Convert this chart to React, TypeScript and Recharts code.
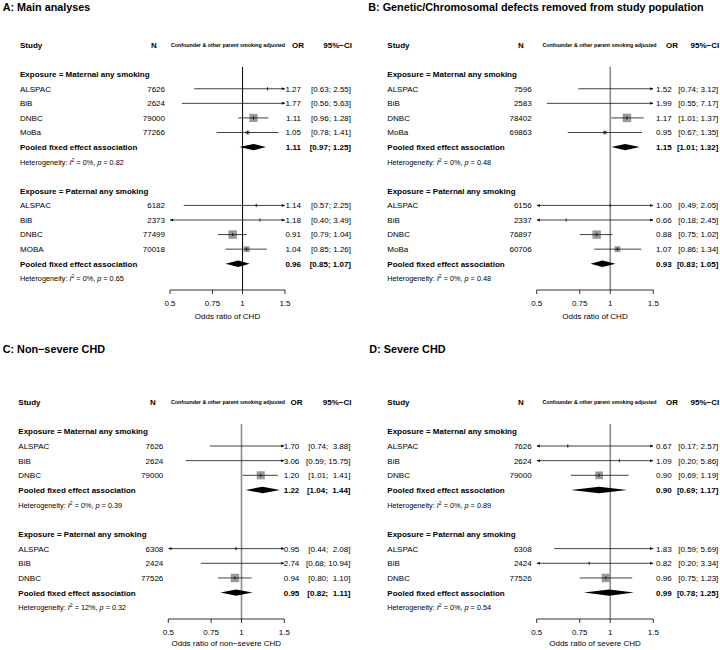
import React from 'react';
import { ComposedChart, Scatter, XAxis, YAxis, ReferenceLine } from 'recharts';

const FONT = '"Liberation Sans", Arial, Helvetica, sans-serif';

const cohorts4 = ['ALSPAC', 'BiB', 'DNBC', 'MoBa'];
const cohorts4Upper = ['ALSPAC', 'BiB', 'DNBC', 'MOBA'];
const cohorts3 = ['ALSPAC', 'BiB', 'DNBC'];
const exposures = ['Exposure = Maternal any smoking', 'Exposure = Paternal any smoking'];

// A: Main analyses
const aMatN = [7626, 2624, 79000, 77266];
const aMatOR = [1.27, 1.77, 1.11, 1.05];
const aMatLo = [0.63, 0.56, 0.96, 0.78];
const aMatHi = [2.55, 5.63, 1.28, 1.41];
const aMatPooled = [1.11, 0.97, 1.25];
const aMatHet = ['0%', '0.82'];
const aPatN = [6182, 2373, 77499, 70018];
const aPatOR = [1.14, 1.18, 0.91, 1.04];
const aPatLo = [0.57, 0.4, 0.79, 0.85];
const aPatHi = [2.25, 3.49, 1.04, 1.26];
const aPatPooled = [0.96, 0.85, 1.07];
const aPatHet = ['0%', '0.65'];

// B: Genetic/Chromosomal defects removed
const bMatN = [7596, 2583, 78402, 69863];
const bMatOR = [1.52, 1.99, 1.17, 0.95];
const bMatLo = [0.74, 0.55, 1.01, 0.67];
const bMatHi = [3.12, 7.17, 1.37, 1.35];
const bMatPooled = [1.15, 1.01, 1.32];
const bMatHet = ['0%', '0.48'];
const bPatN = [6156, 2337, 76897, 60706];
const bPatOR = [1.0, 0.66, 0.88, 1.07];
const bPatLo = [0.49, 0.18, 0.75, 0.86];
const bPatHi = [2.05, 2.45, 1.02, 1.34];
const bPatPooled = [0.93, 0.83, 1.05];
const bPatHet = ['0%', '0.48'];

// C: Non-severe CHD
const cMatN = [7626, 2624, 79000];
const cMatOR = [1.7, 3.06, 1.2];
const cMatLo = [0.74, 0.59, 1.01];
const cMatHi = [3.88, 15.75, 1.41];
const cMatPooled = [1.22, 1.04, 1.44];
const cMatHet = ['0%', '0.39'];
const cPatN = [6308, 2424, 77526];
const cPatOR = [0.95, 2.74, 0.94];
const cPatLo = [0.44, 0.68, 0.8];
const cPatHi = [2.08, 10.94, 1.1];
const cPatPooled = [0.95, 0.82, 1.11];
const cPatHet = ['12%', '0.32'];

// D: Severe CHD
const dMatN = [7626, 2624, 79000];
const dMatOR = [0.67, 1.09, 0.9];
const dMatLo = [0.17, 0.2, 0.69];
const dMatHi = [2.57, 5.86, 1.19];
const dMatPooled = [0.9, 0.69, 1.17];
const dMatHet = ['0%', '0.89'];
const dPatN = [6308, 2424, 77526];
const dPatOR = [1.83, 0.82, 0.96];
const dPatLo = [0.59, 0.2, 0.75];
const dPatHi = [5.69, 3.34, 1.23];
const dPatPooled = [0.99, 0.78, 1.25];
const dPatHet = ['0%', '0.54'];

const axisTicks = [0.5, 0.75, 1, 1.5];
const X_DOMAIN = [0.5, 1.5];
const MAX_BOX = 8.5;
const DIAMOND_H = 0.22;

type Group = {
  label: string; studies: string[]; n: number[]; or: number[]; lo: number[]; hi: number[];
  pooled: number[]; het: string[];
};
type Row = {
  x: number; y: number; kind: string; label?: string; n?: number; or?: number; lo?: number;
  hi?: number; het?: string[];
};
type Layout = {
  study: number; nHead: number; n: number; conf: number; orHead: number; or: number; ci: number;
  left: number; right: number;
};

const grp = (i: number, studies: string[], n: number[], or: number[], lo: number[], hi: number[],
  pooled: number[], het: string[]): Group => ({ label: exposures[i], studies, n, or, lo, hi, pooled, het });

const groupsA = [
  grp(0, cohorts4, aMatN, aMatOR, aMatLo, aMatHi, aMatPooled, aMatHet),
  grp(1, cohorts4Upper, aPatN, aPatOR, aPatLo, aPatHi, aPatPooled, aPatHet),
];
const groupsB = [
  grp(0, cohorts4, bMatN, bMatOR, bMatLo, bMatHi, bMatPooled, bMatHet),
  grp(1, cohorts4, bPatN, bPatOR, bPatLo, bPatHi, bPatPooled, bPatHet),
];
const groupsC = [
  grp(0, cohorts3, cMatN, cMatOR, cMatLo, cMatHi, cMatPooled, cMatHet),
  grp(1, cohorts3, cPatN, cPatOR, cPatLo, cPatHi, cPatPooled, cPatHet),
];
const groupsD = [
  grp(0, cohorts3, dMatN, dMatOR, dMatLo, dMatHi, dMatPooled, dMatHet),
  grp(1, cohorts3, dPatN, dPatOR, dPatLo, dPatHi, dPatPooled, dPatHet),
];

function buildRows(groups: Group[]): Row[] {
  const rows: Row[] = [{ x: 0, y: 0, kind: 'head' }];
  let y = 2;
  groups.forEach((g) => {
    rows.push({ x: 0, y: y++, kind: 'group', label: g.label });
    g.studies.forEach((s, i) => {
      rows.push({ x: 0, y: y++, kind: 'study', label: s, n: g.n[i], or: g.or[i], lo: g.lo[i], hi: g.hi[i] });
    });
    rows.push({
      x: 0, y: y++, kind: 'pooled', label: 'Pooled fixed effect association',
      or: g.pooled[0], lo: g.pooled[1], hi: g.pooled[2],
    });
    rows.push({ x: 0, y, kind: 'het', het: g.het });
    y += 2;
  });
  return rows;
}

const inside = (v: number) => v >= X_DOMAIN[0] && v <= X_DOMAIN[1];
const clamp = (v: number) => Math.min(Math.max(v, X_DOMAIN[0]), X_DOMAIN[1]);
const prec = (r: Row) => 3.92 / (Math.log(r.hi!) - Math.log(r.lo!));

function textShape(L: Layout, hiWidth: number) {
  return (props: any) => {
    const r: Row = props.payload;
    const y = props.cy + 2.9;
    const base = { fontFamily: FONT, fill: '#000', style: { whiteSpace: 'pre' as const } };
    const ci = r.lo != null ? `[${r.lo.toFixed(2)}; ${r.hi!.toFixed(2).padStart(hiWidth, ' ')}]` : '';
    if (r.kind === 'head') {
      return (
        <g>
          <text {...base} x={L.study} y={y} fontSize={8} fontWeight="bold">Study</text>
          <text {...base} x={L.nHead} y={y} fontSize={8} fontWeight="bold" textAnchor="middle">N</text>
          <text {...base} x={L.conf} y={y - 0.5} fontSize={5.3} fontWeight="bold" textAnchor="middle">
            Confounder &amp; other parent smoking adjusted
          </text>
          <text {...base} x={L.orHead} y={y} fontSize={8} fontWeight="bold" textAnchor="middle">OR</text>
          <text {...base} x={L.ci + 1} y={y} fontSize={8} fontWeight="bold" textAnchor="end">95%−CI</text>
        </g>
      );
    }
    if (r.kind === 'group') {
      return <text {...base} x={L.study} y={y} fontSize={8} fontWeight="bold">{r.label}</text>;
    }
    if (r.kind === 'het') {
      return (
        <text {...base} x={L.study} y={y} fontSize={7.3}>
          {'Heterogeneity: '}
          <tspan fontStyle="italic">I</tspan>
          <tspan fontSize={5} dy={-2.9}>2</tspan>
          <tspan dy={2.9}>{` = ${r.het![0]}, `}</tspan>
          <tspan fontStyle="italic">p</tspan>
          {` = ${r.het![1]}`}
        </text>
      );
    }
    const bold = r.kind === 'pooled' ? 'bold' : 'normal';
    return (
      <g>
        <text {...base} x={L.study} y={y} fontSize={8} fontWeight={bold}>{r.label}</text>
        {r.n != null && (
          <text {...base} x={L.n} y={y} fontSize={8} textAnchor="end">{String(r.n)}</text>
        )}
        <text {...base} x={L.or} y={y} fontSize={8} fontWeight={bold} textAnchor="end">{r.or!.toFixed(2)}</text>
        <text {...base} x={L.ci} y={y} fontSize={8} fontWeight={bold} textAnchor="end">{ci}</text>
      </g>
    );
  };
}

const boxShape = (props: any) => {
  const s = props.payload.side;
  return <rect x={props.cx - s / 2} y={props.cy - s / 2} width={s} height={s} fill="#9a9a9a" />;
};

const ciPointShape = (props: any) =>
  props.payload.mid ? (
    <line x1={props.cx} x2={props.cx} y1={props.cy - 1.6} y2={props.cy + 1.6} stroke="#000" strokeWidth={0.8} />
  ) : (
    <g />
  );

// arrow tip sits on the axis limit, body points back into the plot
const arrowShape = (props: any) => {
  const d = props.payload.dir;
  const { cx, cy } = props;
  return (
    <path d={`M${cx},${cy} L${cx - d * 3.2},${cy - 1.5} L${cx - d * 3.2},${cy + 1.5} Z`} fill="#111" />
  );
};

const diamondLine = (lp: any) => (
  <polygon points={lp.points.map((q: any) => `${q.x},${q.y}`).join(' ')} fill="#000" stroke="none" />
);

type PanelProps = {
  groups: Group[]; layout: Layout; height: number; top: number; axisHeight: number;
  xLabel: string; labelOffset: number; refStroke: string; refWidth: number;
};

function ForestPanel({ groups, layout: L, height, top, axisHeight, xLabel, labelOffset, refStroke, refWidth }: PanelProps) {
  const rows = buildRows(groups);
  const yMax = rows[rows.length - 1].y + 0.8;
  const studies = rows.filter((r) => r.kind === 'study');
  const pooled = rows.filter((r) => r.kind === 'pooled');
  const maxPrec = Math.max(...studies.map(prec));
  const hiWidth = Math.max(...rows.filter((r) => r.hi != null).map((r) => r.hi!.toFixed(2).length));

  const boxes = studies
    .filter((r) => inside(r.or!))
    .map((r) => ({ x: r.or!, y: r.y, side: (MAX_BOX * prec(r)) / maxPrec }));
  const arrows: { x: number; y: number; dir: number }[] = [];
  studies.forEach((r) => {
    if (r.lo! < X_DOMAIN[0]) arrows.push({ x: X_DOMAIN[0], y: r.y, dir: -1 });
    if (r.hi! > X_DOMAIN[1]) arrows.push({ x: X_DOMAIN[1], y: r.y, dir: 1 });
  });

  return (
    <ComposedChart
      width={360}
      height={height}
      margin={{ top, right: 360 - L.right, bottom: 0, left: L.left }}
    >
      <XAxis
        type="number"
        dataKey="x"
        scale="log"
        domain={X_DOMAIN}
        allowDataOverflow
        ticks={axisTicks}
        tickFormatter={(v: number) => String(v)}
        axisLine={{ stroke: '#000', strokeWidth: 0.8 }}
        tickLine={{ stroke: '#000', strokeWidth: 0.8 }}
        tickSize={4}
        tickMargin={6}
        height={axisHeight}
        tick={{ fontSize: 8, fill: '#000', fontFamily: FONT }}
        label={{ value: xLabel, position: 'insideBottom', offset: labelOffset, fontSize: 8, fill: '#000', fontFamily: FONT }}
      />
      <XAxis xAxisId="t" type="number" dataKey="x" domain={[0, 1]} hide />
      <YAxis type="number" dataKey="y" domain={[0, yMax]} reversed hide />

      <Scatter data={boxes} shape={boxShape} isAnimationActive={false} />
      {studies.map((r) => (
        <Scatter
          key={`ci-${r.y}`}
          data={[
            { x: clamp(r.lo!), y: r.y },
            ...(inside(r.or!) ? [{ x: r.or!, y: r.y, mid: true }] : []),
            { x: clamp(r.hi!), y: r.y },
          ]}
          line={{ stroke: '#111', strokeWidth: 0.8 }}
          shape={ciPointShape}
          isAnimationActive={false}
        />
      ))}
      <Scatter data={arrows} shape={arrowShape} isAnimationActive={false} />
      {pooled.map((r) => (
        <Scatter
          key={`pd-${r.y}`}
          data={[
            { x: r.lo!, y: r.y },
            { x: r.or!, y: r.y - DIAMOND_H },
            { x: r.hi!, y: r.y },
            { x: r.or!, y: r.y + DIAMOND_H },
          ]}
          line={diamondLine}
          shape={() => <g />}
          isAnimationActive={false}
        />
      ))}
      <ReferenceLine
        segment={[{ x: 1, y: 1.5 }, { x: 1, y: yMax }]}
        stroke={refStroke}
        strokeWidth={refWidth}
        ifOverflow="visible"
      />
      <Scatter xAxisId="t" data={rows} shape={textShape(L, hiWidth)} isAnimationActive={false} />
    </ComposedChart>
  );
}

const layoutA: Layout = { study: 20, nHead: 154, n: 165, conf: 228, orHead: 298, or: 301, ci: 351, left: 170, right: 285 };
const layoutB: Layout = { study: 27.3, nHead: 161, n: 171.7, conf: 239.5, orHead: 312, or: 311.7, ci: 358.3, left: 176.7, right: 293.3 };
const layoutC: Layout = { study: 18.3, nHead: 153, n: 163.3, conf: 228, orHead: 296.5, or: 299.3, ci: 350.5, left: 168.3, right: 284.3 };

const titles = [
  { text: 'A: Main analyses', x: 2.7, y: 10.5 },
  { text: 'B: Genetic/Chromosomal defects removed from study population', x: 368.3, y: 10.5 },
  { text: 'C: Non−severe CHD', x: 2.7, y: 352.7 },
  { text: 'D: Severe CHD', x: 369.3, y: 352.7 },
];

export default function App() {
  return (
    <div style={{ position: 'absolute', left: 0, top: 0, width: 720, height: 650, background: '#fff' }}>
      <div style={{ position: 'absolute', left: 0, top: 0 }}>
        <ForestPanel groups={groupsA} layout={layoutA} height={320} top={45} axisHeight={30}
          xLabel="Odds ratio of CHD" labelOffset={1.5} refStroke="#000" refWidth={1} />
      </div>
      <div style={{ position: 'absolute', left: 360, top: 0 }}>
        <ForestPanel groups={groupsB} layout={layoutB} height={320} top={45} axisHeight={30}
          xLabel="Odds ratio of CHD" labelOffset={1.5} refStroke="#8c8c8c" refWidth={1.6} />
      </div>
      <div style={{ position: 'absolute', left: 0, top: 320 }}>
        <ForestPanel groups={groupsC} layout={layoutC} height={330} top={82} axisHeight={31}
          xLabel="Odds ratio of non−severe CHD" labelOffset={4} refStroke="#8c8c8c" refWidth={1.6} />
      </div>
      <div style={{ position: 'absolute', left: 360, top: 320 }}>
        <ForestPanel groups={groupsD} layout={layoutB} height={330} top={82} axisHeight={31}
          xLabel="Odds ratio of severe CHD" labelOffset={4} refStroke="#8c8c8c" refWidth={1.6} />
      </div>
      <svg width={720} height={650} style={{ position: 'absolute', left: 0, top: 0, pointerEvents: 'none' }}>
        {titles.map((t) => (
          <text key={t.text} x={t.x} y={t.y} fontFamily={FONT} fontSize={10.8} fontWeight="bold" fill="#000">
            {t.text}
          </text>
        ))}
      </svg>
    </div>
  );
}
